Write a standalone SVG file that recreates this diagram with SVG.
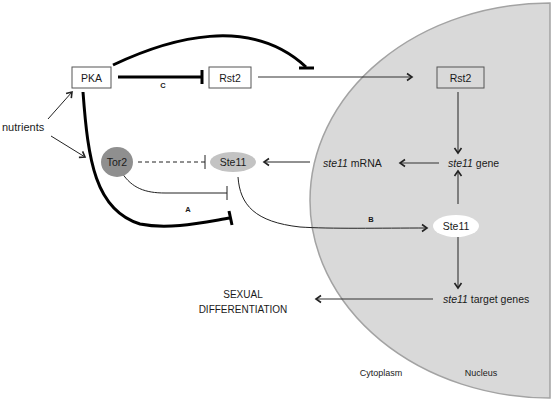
<svg xmlns="http://www.w3.org/2000/svg" width="560" height="405" viewBox="0 0 560 405">
<style>
text{font-family:"Liberation Sans",Arial,sans-serif;font-size:10.5px;fill:#1a1a1a}
.sm{font-size:9px}
.lbl{font-size:7.5px;font-weight:bold}
.caps{font-size:10px}
.box{fill:#fff;stroke:#555;stroke-width:1}
.thin{fill:none;stroke:#222;stroke-width:1}
.thick{fill:none;stroke:#000;stroke-width:3}
.gr{fill:none;stroke:#333;stroke-width:1.1}
</style>
<defs>
<marker id="ah" markerWidth="10" markerHeight="10" refX="7" refY="5" orient="auto" markerUnits="userSpaceOnUse">
<path d="M2,1.5 L7,5 L2,8.5" fill="none" stroke="#222" stroke-width="1.6"/>
</marker>
</defs>
<path id="nucleus" d="M550,3 A240,197.5 0 0 0 550,398 Z" fill="#d9d9d9" stroke="#a3a3a3" stroke-width="1.5"/>
<g id="connectors">
<path class="thick" d="M113,65 C170,38 250,15 306,67"/>
<line class="thick" x1="299" y1="68" x2="314" y2="68"/>
<line class="thick" x1="118" y1="77" x2="202" y2="77"/>
<line class="thick" x1="202" y1="70" x2="202" y2="84"/>
<line class="gr" x1="258" y1="77" x2="412" y2="77" marker-end="url(#ah)"/>
<line class="gr" x1="458" y1="92" x2="458" y2="153" marker-end="url(#ah)"/>
<line class="gr" x1="439" y1="163" x2="400" y2="163" marker-end="url(#ah)"/>
<line class="thin" x1="310" y1="162" x2="264" y2="162" marker-end="url(#ah)"/>
<line class="thin" x1="138" y1="162" x2="205" y2="162" stroke-dasharray="4,3"/>
<line class="thin" x1="205" y1="155" x2="205" y2="169"/>
<path class="thin" d="M122,173 C132,188 145,193 165,193 L227,193"/>
<line class="thin" x1="227" y1="186" x2="227" y2="200"/>
<path class="thick" d="M83,92 C88,160 95,210 140,224 C170,230 205,222 230,218"/>
<line class="thick" x1="229" y1="211" x2="232" y2="225"/>
<path class="thin" d="M238,177 C240,205 255,222 300,227 C330,229 380,228 427,228" marker-end="url(#ah)"/>
<line class="gr" x1="458" y1="204" x2="458" y2="171" marker-end="url(#ah)"/>
<line class="gr" x1="458" y1="237" x2="458" y2="288" marker-end="url(#ah)"/>
<line class="gr" x1="433" y1="299" x2="316" y2="299" marker-end="url(#ah)"/>
<line class="thin" x1="48" y1="119" x2="72" y2="92" marker-end="url(#ah)"/>
<line class="thin" x1="51" y1="136" x2="85" y2="157" marker-end="url(#ah)"/>
<text class="lbl" x="163" y="87.5" text-anchor="middle">C</text>
<text class="lbl" x="188" y="212" text-anchor="middle">A</text>
<text class="lbl" x="371" y="222" text-anchor="middle">B</text>
</g>
<g id="pka"><rect class="box" x="72" y="67" width="39" height="21"/><text x="91.5" y="81.5" text-anchor="middle">PKA</text></g>
<g id="rst2-cyto"><rect class="box" x="209" y="67" width="42" height="21"/><text x="230" y="81.5" text-anchor="middle">Rst2</text></g>
<g id="rst2-nuc"><rect x="437" y="67" width="47" height="21" fill="none" stroke="#555" stroke-width="1"/><text x="460.5" y="81.5" text-anchor="middle">Rst2</text></g>
<g id="nutrients"><text x="2" y="130.5" style="font-size:11px">nutrients</text></g>
<g id="tor2"><ellipse cx="117" cy="162" rx="16" ry="15" fill="#8f8f8f"/><text x="117" y="165.5" text-anchor="middle">Tor2</text></g>
<g id="ste11-cyto"><ellipse cx="233" cy="162" rx="23" ry="10" fill="#c3c3c3"/><text x="233" y="165.5" text-anchor="middle">Ste11</text></g>
<g id="ste11-mrna"><text x="323" y="166.5"><tspan font-style="italic">ste11</tspan> mRNA</text></g>
<g id="ste11-gene"><text x="448" y="166.5"><tspan font-style="italic">ste11</tspan> gene</text></g>
<g id="ste11-nuc"><ellipse cx="456" cy="226" rx="23" ry="11" fill="#fff"/><text x="456" y="229.5" text-anchor="middle">Ste11</text></g>
<g id="target-genes"><text x="443" y="302.5"><tspan font-style="italic">ste11</tspan> target genes</text></g>
<g id="sexual-diff"><text class="caps" x="243" y="297.5" text-anchor="middle">SEXUAL</text><text class="caps" x="243" y="312.5" text-anchor="middle">DIFFERENTIATION</text></g>
<g id="labels"><text class="sm" x="381" y="376" text-anchor="middle">Cytoplasm</text><text class="sm" x="481" y="376" text-anchor="middle">Nucleus</text></g>
</svg>
